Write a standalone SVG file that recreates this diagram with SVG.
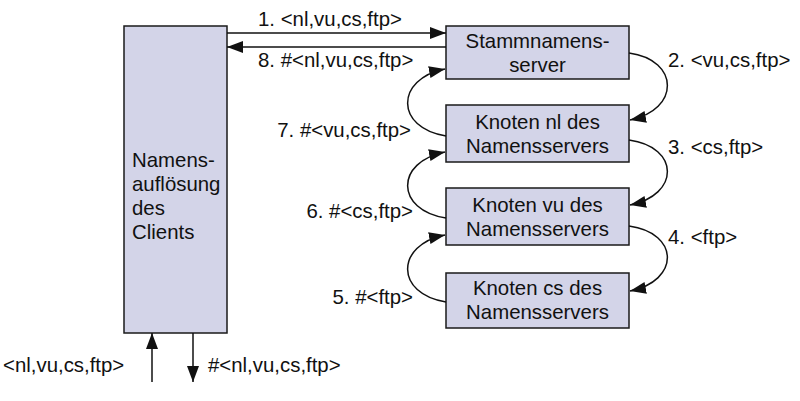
<svg xmlns="http://www.w3.org/2000/svg" width="800" height="401" viewBox="0 0 800 401">
<defs>
<style>
.box{fill:#d3d4e8;stroke:#1a1a1a;stroke-width:1.5}
.t{font-family:"Liberation Sans",Arial,sans-serif;font-size:20.4px;fill:#111}
.c{text-anchor:middle}
.e{text-anchor:end}
.ln{fill:none;stroke:#111;stroke-width:1.5}
</style>
<marker id="ah" viewBox="0 0 16 12" refX="16" refY="6" markerWidth="16" markerHeight="12" markerUnits="userSpaceOnUse" orient="auto">
<path d="M0,0 L16,6 L0,12 Z" fill="#111"/>
</marker>
</defs>
<rect width="800" height="401" fill="#fff"/>
<g id="client">
<rect class="box" x="124" y="26" width="103" height="307"/>
<text class="t" x="132" y="167">Namens-</text>
<text class="t" x="132" y="191">auflösung</text>
<text class="t" x="132" y="215">des</text>
<text class="t" x="132" y="239">Clients</text>
</g>
<g id="root">
<rect class="box" x="446" y="26" width="183" height="53"/>
<text class="t c" x="537.5" y="48">Stammnamens-</text>
<text class="t c" x="537.5" y="72">server</text>
</g>
<g id="nl">
<rect class="box" x="446" y="105" width="183" height="57"/>
<text class="t c" x="537.5" y="129">Knoten nl des</text>
<text class="t c" x="537.5" y="153">Namensservers</text>
</g>
<g id="vu">
<rect class="box" x="446" y="188" width="183" height="57"/>
<text class="t c" x="537.5" y="212">Knoten vu des</text>
<text class="t c" x="537.5" y="236">Namensservers</text>
</g>
<g id="cs">
<rect class="box" x="446" y="273" width="183" height="55"/>
<text class="t c" x="537.5" y="295">Knoten cs des</text>
<text class="t c" x="537.5" y="319">Namensservers</text>
</g>
<g id="connectors">
<path class="ln" d="M227,33 L446,33" marker-end="url(#ah)"/>
<path class="ln" d="M446,47 L227,47" marker-end="url(#ah)"/>
<path class="ln" d="M629,53 C680,60 680,110 630,120" marker-end="url(#ah)"/>
<path class="ln" d="M629,140 C680,147 680,195 630,205" marker-end="url(#ah)"/>
<path class="ln" d="M629,226 C680,233 680,281 630,291" marker-end="url(#ah)"/>
<path class="ln" d="M446,302 C395,294 395,245 445,235" marker-end="url(#ah)"/>
<path class="ln" d="M446,218 C395,210 395,162 445,152" marker-end="url(#ah)"/>
<path class="ln" d="M446,136 C395,128 395,79 445,69" marker-end="url(#ah)"/>
<path class="ln" d="M152,382 L152,333" marker-end="url(#ah)"/>
<path class="ln" d="M193,333 L193,382" marker-end="url(#ah)"/>
</g>
<g id="labels">
<text class="t" x="258" y="26">1. &lt;nl,vu,cs,ftp&gt;</text>
<text class="t" x="258" y="67">8. #&lt;nl,vu,cs,ftp&gt;</text>
<text class="t" x="668" y="67">2. &lt;vu,cs,ftp&gt;</text>
<text class="t" x="668" y="154">3. &lt;cs,ftp&gt;</text>
<text class="t" x="668" y="244">4. &lt;ftp&gt;</text>
<text class="t e" x="411" y="137">7. #&lt;vu,cs,ftp&gt;</text>
<text class="t e" x="413" y="218">6. #&lt;cs,ftp&gt;</text>
<text class="t e" x="413" y="304">5. #&lt;ftp&gt;</text>
<text class="t" x="3" y="372">&lt;nl,vu,cs,ftp&gt;</text>
<text class="t" x="208" y="372">#&lt;nl,vu,cs,ftp&gt;</text>
</g>
</svg>
